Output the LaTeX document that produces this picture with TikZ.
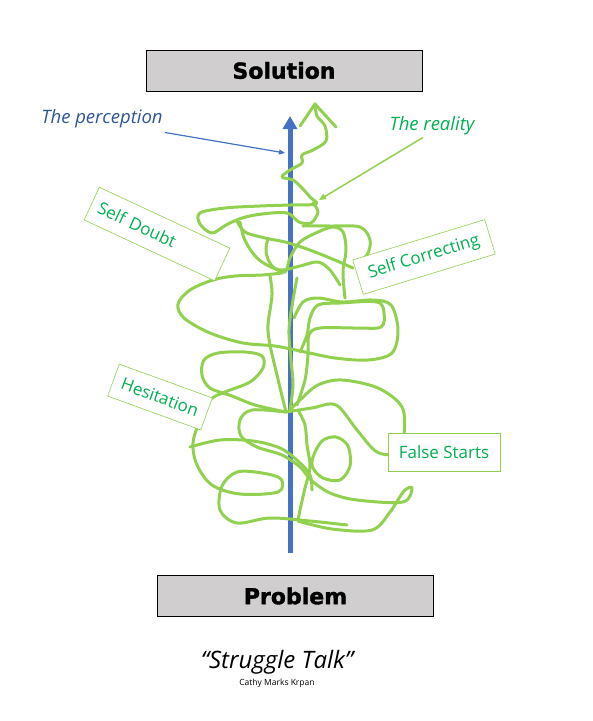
\documentclass[tikz,border=0pt]{standalone}
\usepackage{fontspec}
\setmainfont{Open Sans}
\newfontfamily\headfont{DejaVu Sans}[BoldFeatures={FakeBold=1.6}]
\usetikzlibrary{arrows.meta,positioning}
\definecolor{arrowblue}{HTML}{4472C4}
\definecolor{textblue}{HTML}{2F5597}
\definecolor{scribble}{HTML}{92D050}
\definecolor{labelgreen}{HTML}{00B050}
\definecolor{boxgray}{HTML}{D0CECE}

\begin{document}
\begin{tikzpicture}[x=1pt, y=-1pt,
    endbox/.style={rectangle, draw=black, line width=1pt, fill=boxgray, minimum width=276pt,
                   minimum height=41pt, font=\headfont\bfseries\fontsize{22}{25}\selectfont},
    tagbox/.style={rectangle, draw=scribble, line width=0.6pt, fill=white, text=labelgreen,
                   inner sep=4pt, font=\fontsize{17}{19}\selectfont},
    scrib/.style={draw=scribble, line width=3pt, line cap=round, line join=round},
    note/.style={inner sep=2pt, font=\itshape\fontsize{18.5}{21}\selectfont}
]
    \useasboundingbox (0,0) rectangle (593,721);

    % Top and bottom boxes
    \node[endbox] (solution) at (284,70.5) {Solution};
    \node[endbox] (problem) at (295.5,596) {Problem};

    % The straight way up
    \coordinate (upbase) at (290,553);
    \coordinate (uptop) at (290,116);
    \draw[draw=arrowblue, line width=5pt, -{Triangle[width=14pt,length=13pt]}] (upbase) -- (uptop);

    % The scribble
    \draw[scrib] (300,126) -- (315,104) -- (336,127);
    \draw[scrib] plot[smooth, tension=0.55] coordinates {(315,104) (317,116) (325,126) (326,141)
        (313,150) (302,155) (302,163) (290,170) (282,177) (293,180) (302,188) (310,197) (316,204)
        (290,205) (260,206) (225,208) (200,213) (200,224) (212,233) (226,225) (242,218) (262,214)
        (287,213) (299,222) (311,223) (318,212) (313,203)};
    \draw[scrib] plot[smooth, tension=0.55] coordinates {(237,221) (245,232) (265,238) (285,242)
        (307,249) (330,258) (353,268)};
    \draw[scrib] plot[smooth, tension=0.55] coordinates {(303,226) (330,226) (360,227) (370,240)
        (367,255) (355,263)};
    \draw[scrib] plot[smooth, tension=0.55] coordinates {(268,238) (266,252) (272,266) (285,272)
        (290,258) (300,242) (318,232) (333,227) (343,232) (346,250) (343,272) (345,298)};
    \draw[scrib] plot[smooth, tension=0.55] coordinates {(240,222) (244,238) (252,252) (262,262)
        (280,270) (300,266) (318,262) (330,270) (340,285)};
    \draw[scrib] plot[smooth, tension=0.55] coordinates {(282,273) (262,275) (235,276) (213,280)
        (190,290) (178,304) (184,318) (210,333) (243,343) (275,346) (305,352) (335,358) (368,360)
        (392,353) (398,330) (391,305) (372,300) (343,302) (318,298) (303,302) (294,318)};
    \draw[scrib] plot[smooth, tension=0.55] coordinates {(270,276) (272,295) (268,325) (270,345)
        (277,375) (283,400) (286,412)};
    \draw[scrib] plot[smooth, tension=0.55] coordinates {(297,278) (293,300) (289,330) (291,360)
        (293,385) (290,410)};
    \draw[scrib] plot[smooth, tension=0.55] coordinates {(300,352) (307,335) (310,318) (318,305)
        (340,303) (377,302) (384,313) (381,327) (357,328) (320,328) (309,335) (308,355) (305,380)
        (297,405)};
    \draw[scrib] plot[smooth, tension=0.55] coordinates {(286,412) (255,405) (232,396) (210,388)
        (202,375) (204,360) (218,353) (245,352) (262,356) (263,368) (250,382) (225,392) (210,400)
        (200,420) (193,443) (197,465) (212,485) (240,494) (278,492) (281,479) (262,473) (237,472)
        (222,486) (220,510) (237,523) (270,518) (310,521) (347,525)};
    \draw[scrib] plot[smooth, tension=0.55] coordinates {(286,412) (312,408) (336,405) (357,430)
        (377,452) (398,453) (404,435) (402,407) (378,388) (342,380) (318,385) (300,400) (290,410)};
    \draw[scrib] plot[smooth, tension=0.55] coordinates {(286,412) (252,410) (240,420) (241,436)
        (257,447) (282,455) (300,467) (311,480) (330,493) (357,500) (403,502) (412,488) (404,491)
        (390,512) (372,530) (332,529) (298,521)};
    \draw[scrib] plot[smooth, tension=0.55] coordinates {(190,447) (220,440) (253,441) (280,448)
        (298,461) (310,475) (312,490)};
    \draw[scrib] plot[smooth cycle, tension=0.55] coordinates {(313,457) (322,441) (336,437)
        (348,446) (350,466) (340,480) (323,478) (313,468)};
    \draw[scrib] plot[smooth, tension=0.55] coordinates {(298,410) (305,425) (307,445) (310,467)
        (305,488) (300,510) (298,521)};

    % Labels on the scribble
    \node[tagbox, rotate=-25, minimum width=144pt, minimum height=36pt, text width=128pt, align=left]
        (selfdoubt) at (157,234) {Self Doubt};
    \node[tagbox, rotate=17, minimum width=138pt, minimum height=36pt] (selfcorr) at (424,257) {Self Correcting};
    \node[tagbox, rotate=-20, minimum width=99pt, minimum height=34pt] (hesitation) at (160,397) {Hesitation};
    \node[tagbox, minimum width=112pt, minimum height=38pt] (falsestarts) at (444,452) {False Starts};

    % Perception and reality
    \node[note, text=textblue] (perception) at (102,119) {The perception};
    \coordinate (pertip) at (285,153);
    \draw[draw=arrowblue, line width=1.2pt, -{Triangle[width=5pt,length=6pt]}] ([yshift=-2pt]perception.south east) -- (pertip);
    \node[note, text=labelgreen] (reality) at (432,126) {The reality};
    \coordinate (realtip) at (319,200);
    \draw[draw=scribble, line width=1.5pt, -{Triangle[width=6pt,length=7pt]}] ([xshift=-9pt]reality.south) -- (realtip);

    % Title
    \node[font=\itshape\fontsize{24}{27}\selectfont] (title) at (277,662) {“Struggle Talk”};
    \node[font=\fontsize{8.5}{10}\selectfont, below=-2pt of title] (author) {Cathy Marks Krpan};
\end{tikzpicture}
\end{document}
